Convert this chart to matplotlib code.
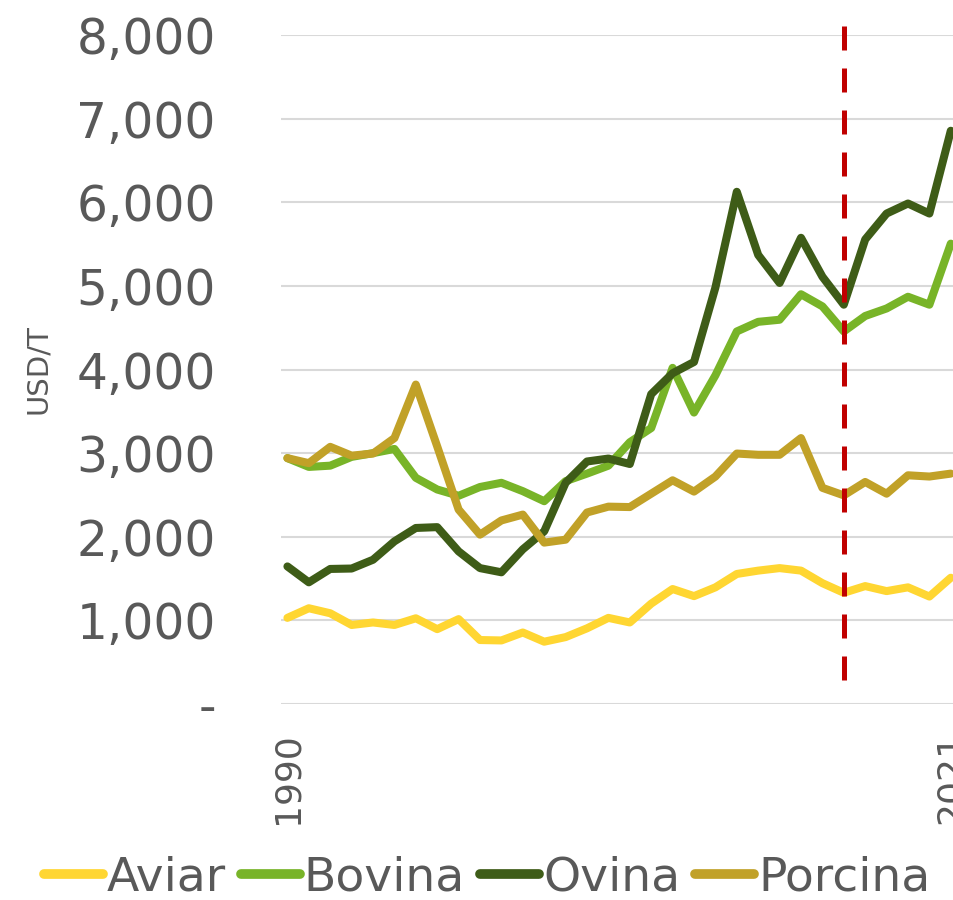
import numpy as np
import matplotlib
matplotlib.use("Agg")
import matplotlib.pyplot as plt
from matplotlib.ticker import FuncFormatter

years = np.arange(1990, 2022)
aviar = [1030, 1145, 1085, 945, 975, 945, 1025, 895, 1015, 765, 760, 855, 745, 800, 905, 1030,
         975, 1200, 1375, 1290, 1395, 1555, 1595, 1625, 1595, 1445, 1330, 1410, 1350, 1395, 1285, 1510]
bovina = [2940, 2835, 2850, 2955, 3000, 3050, 2705, 2565, 2490, 2595, 2645, 2545, 2425, 2665, 2755, 2850,
          3130, 3300, 4020, 3485, 3930, 4455, 4570, 4595, 4900, 4755, 4455, 4640, 4730, 4870, 4775, 5505]
ovina = [1645, 1455, 1615, 1620, 1725, 1945, 2105, 2115, 1825, 1625, 1575, 1850, 2065, 2645, 2900, 2935,
         2870, 3705, 3955, 4090, 4980, 6125, 5370, 5035, 5575, 5110, 4775, 5555, 5865, 5985, 5865, 6855]
porcina = [2940, 2880, 3075, 2970, 2995, 3180, 3820, 3080, 2325, 2025, 2195, 2265, 1930, 1965, 2290, 2360,
           2355, 2515, 2675, 2540, 2720, 2995, 2980, 2980, 3180, 2585, 2495, 2655, 2515, 2735, 2720, 2755]

series = ["Aviar", "Bovina", "Ovina", "Porcina"]
colors = ["#FFD632", "#78B428", "#3E5C17", "#C1A128"]
ref_year = 2016
tick_years = [1990, 2021]

grey = "#595959"
plt.rcParams["font.family"] = ["DejaVu Sans"]

fig = plt.figure(figsize=(9.54, 9.0), dpi=100)
ax = fig.add_axes([281 / 954, 1 - 704 / 900, 1 - 281 / 954, (704 - 35) / 900])

for name, vals, c in zip(series, [aviar, bovina, ovina, porcina], colors):
    ax.plot(years, vals, color=c, lw=5.8, label=name,
            solid_capstyle="round", solid_joinstyle="round", clip_on=False)

# vertical reference line
ax.axvline(ref_year, ymin=0.036, ymax=1.015, color="#C00000", lw=3.6,
           dashes=(4.8, 3.6), clip_on=False, zorder=5)

ax.set_xlim(1989.7, 2021.15)
ax.set_ylim(0, 8000)
ax.set_yticks(np.arange(0, 8001, 1000))
ax.yaxis.set_major_formatter(FuncFormatter(lambda v, p: "-" if v == 0 else f"{v:,.0f}"))
ax.set_xticks(tick_years)
ax.set_xticklabels([str(y) for y in tick_years], rotation=90, va="top")

ax.grid(axis="y", color="#D9D9D9", lw=1.5)
ax.set_axisbelow(True)
for s in ax.spines.values():
    s.set_visible(False)
ax.tick_params(axis="y", length=0, pad=47, labelsize=35, labelcolor=grey)
ax.tick_params(axis="x", length=0, pad=20, labelsize=26, labelcolor=grey)

fig.text(38 / 954, 1 - 369 / 900, "USD/T", rotation=90, ha="center", va="center",
         fontsize=21, color=grey)

leg = fig.legend(loc="center", bbox_to_anchor=(487 / 954, 1 - 878 / 900), ncol=4,
                 frameon=False, fontsize=34, handlelength=1.25, handletextpad=0.08,
                 columnspacing=0.32, borderaxespad=0, borderpad=0)
for t in leg.get_texts():
    t.set_color(grey)
for h in leg.get_lines():
    h.set_linewidth(7)

fig.savefig("out.png", dpi=100)
